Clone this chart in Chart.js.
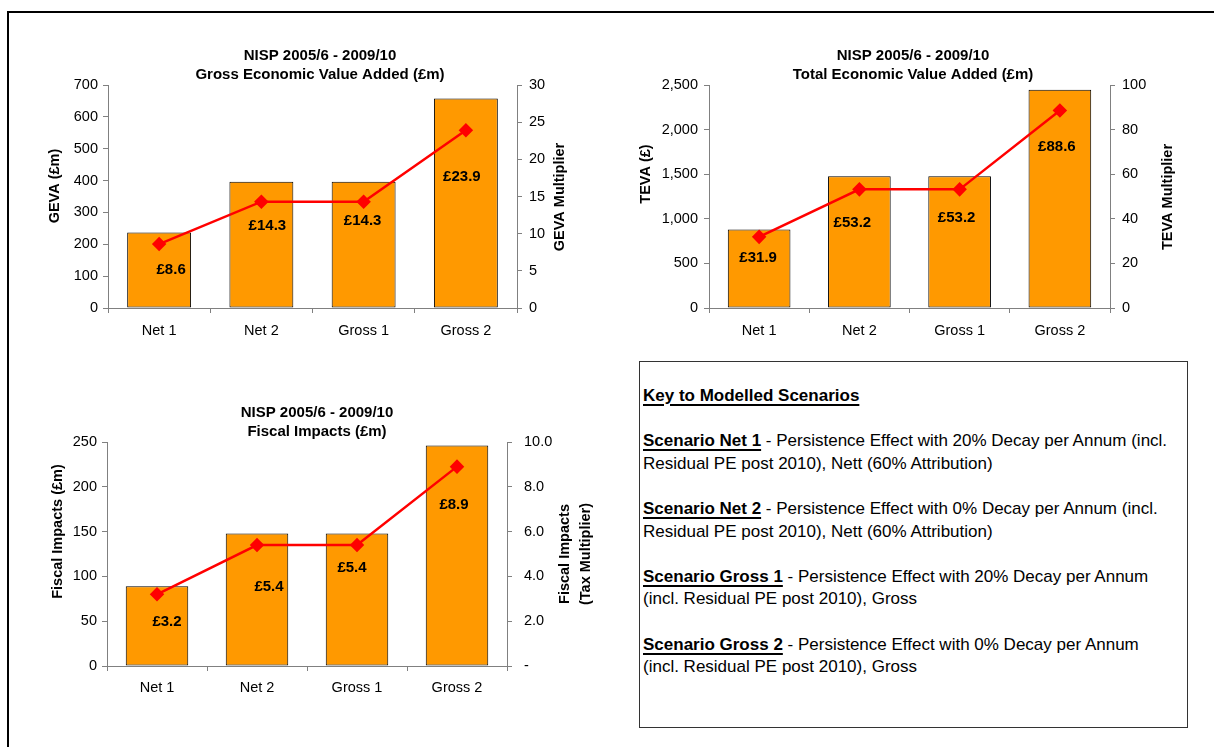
<!DOCTYPE html>
<html>
<head>
<meta charset="utf-8">
<title>NISP 2005/6 - 2009/10</title>
<script src="https://cdn.jsdelivr.net/npm/chart.js@4.4.0/dist/chart.umd.min.js"></script>
<style>
  body { margin: 0; background: #fff; width: 1214px; height: 747px; overflow: hidden; position: relative;
         font-family: "Liberation Sans", Arial, sans-serif; }
  #frame { position: absolute; left: 7px; top: 11px; width: 1300px; height: 800px;
           border-left: 2px solid #000; border-top: 2px solid #000; }
  canvas { position: absolute; }
  #key { position: absolute; left: 639px; top: 361px; width: 549px; height: 367px; box-sizing: border-box;
         border: 1px solid #333; padding: 23px 0 0 3px; color: #000; }
  #key p { margin: 0 0 22.6px 0; font-size: 17px; line-height: 22.6px; white-space: nowrap; }
  #key .u { font-weight: bold; text-decoration: underline; text-decoration-thickness: 2px; text-underline-offset: 3px; }
</style>
</head>
<body>
<div id="frame"></div>
<canvas id="geva" width="600" height="350" style="left:20px;top:0px"></canvas>
<canvas id="teva" width="602" height="350" style="left:612px;top:0px"></canvas>
<canvas id="fiscal" width="600" height="350" style="left:17px;top:360px"></canvas>

<div id="key">
  <p><span class="u">Key to Modelled Scenarios</span></p>
  <p><span class="u">Scenario Net 1</span> - Persistence Effect with 20% Decay per Annum (incl.<br>Residual PE post 2010), Nett (60% Attribution)</p>
  <p><span class="u">Scenario Net 2</span> - Persistence Effect with 0% Decay per Annum (incl.<br>Residual PE post 2010), Nett (60% Attribution)</p>
  <p><span class="u">Scenario Gross 1</span> - Persistence Effect with 20% Decay per Annum<br>(incl. Residual PE post 2010), Gross</p>
  <p><span class="u">Scenario Gross 2</span> - Persistence Effect with 0% Decay per Annum<br>(incl. Residual PE post 2010), Gross</p>
</div>

<script>
// scenario data
var scenarios = ['Net 1', 'Net 2', 'Gross 1', 'Gross 2'];

var gevaValues = [237, 396, 396, 658];          // £m
var gevaMultiplier = [8.6, 14.3, 14.3, 23.9];

var tevaValues = [880, 1478, 1478, 2446];       // £
var tevaMultiplier = [31.9, 53.2, 53.2, 88.6];

var fiscalValues = [89, 148, 148, 246];         // £m
var taxMultiplier = [3.2, 5.4, 5.4, 8.9];

var FONT = '"Liberation Sans", Arial, sans-serif';
var ORANGE = '#FF9900';
var RED = '#FF0000';
var GREY = '#808080';

Chart.defaults.font.family = FONT;
Chart.defaults.color = '#000';

// "£x.x" labels next to the multiplier markers
var valueLabels = {
    id: 'valueLabels',
    afterDatasetsDraw: function(chart, args, opts) {
        var ctx = chart.ctx;
        var meta = chart.getDatasetMeta(0);
        var data = chart.data.datasets[0].data;
        ctx.save();
        ctx.font = 'bold 15px ' + FONT;
        ctx.fillStyle = '#000';
        ctx.textAlign = 'center';
        ctx.textBaseline = 'middle';
        meta.data.forEach(function(pt, i) {
            var off = opts.offsets[i];
            ctx.fillText('£' + data[i].toFixed(1), pt.x + off[0], pt.y + off[1]);
        });
        ctx.restore();
    }
};

// both axis titles read bottom-to-top, so draw them by hand
var sideTitles = {
    id: 'sideTitles',
    afterDraw: function(chart, args, opts) {
        var ctx = chart.ctx;
        var area = chart.chartArea;
        function draw(lines, x, y) {
            ctx.save();
            ctx.translate(x, y);
            ctx.rotate(-Math.PI / 2);
            ctx.font = 'bold 14.5px ' + FONT;
            ctx.fillStyle = '#000';
            ctx.textAlign = 'center';
            ctx.textBaseline = 'middle';
            for (var i = 0; i < lines.length; i++) {
                ctx.fillText(lines[i], 0, (i - (lines.length - 1) / 2) * 21.7);
            }
            ctx.restore();
        }
        draw(opts.left.lines, area.left + opts.left.dx, area.top + opts.left.dy);
        draw(opts.right.lines, area.right + opts.right.dx, area.top + opts.right.dy);
    }
};

function buildChart(id, o) {
    var tickFont = { size: 14.5 };
    return new Chart(document.getElementById(id), {
        type: 'bar',
        data: {
            labels: scenarios,
            datasets: [
                {
                    type: 'line',
                    data: o.multiplier,
                    yAxisID: 'y1',
                    order: 0,
                    borderColor: RED,
                    backgroundColor: RED,
                    borderWidth: 2.5,
                    pointStyle: 'rectRot',
                    pointRadius: 5.5,
                    pointBackgroundColor: RED,
                    pointBorderColor: RED
                },
                {
                    type: 'bar',
                    data: o.values,
                    yAxisID: 'y',
                    order: 1,
                    backgroundColor: ORANGE,
                    borderColor: '#000',
                    borderWidth: 1,
                    borderSkipped: false,
                    categoryPercentage: 1,
                    barPercentage: 0.625
                }
            ]
        },
        options: {
            responsive: false,
            animation: false,
            layout: { padding: 0 },
            plugins: {
                legend: { display: false },
                tooltip: { enabled: false },
                title: {
                    display: true,
                    text: o.title,
                    color: '#000',
                    font: { size: 15, weight: 'bold', lineHeight: 1.3 },
                    padding: { top: o.titleTop, bottom: 0 }
                },
                valueLabels: { offsets: o.labelOffsets },
                sideTitles: o.sideTitles
            },
            scales: {
                x: {
                    offset: true,
                    grid: { offset: true, drawOnChartArea: false, tickLength: 5, color: GREY },
                    border: { color: GREY },
                    ticks: { font: tickFont, color: '#000', padding: o.xPad, maxRotation: 0 },
                    afterFit: function(s) { s.height = o.xHeight; }
                },
                y: {
                    position: 'left',
                    min: 0, max: o.yMax,
                    grid: { drawOnChartArea: false, tickLength: 5, color: GREY },
                    border: { color: GREY },
                    ticks: { stepSize: o.yStep, font: tickFont, color: '#000', padding: o.leftPad, callback: o.yFmt },
                    afterFit: function(s) { s.width = o.leftW; }
                },
                y1: {
                    position: 'right',
                    min: 0, max: o.y1Max,
                    grid: { drawOnChartArea: false, tickLength: 5, color: GREY },
                    border: { color: GREY },
                    ticks: { stepSize: o.y1Step, font: tickFont, color: '#000', padding: o.rightPad, callback: o.y1Fmt },
                    afterFit: function(s) { s.width = o.rightW; }
                }
            }
        },
        plugins: [valueLabels, sideTitles]
    });
}

function plain(v) { return String(v); }

buildChart('geva', {
    title: ['NISP 2005/6 - 2009/10', 'Gross Economic Value Added (£m)'],
    values: gevaValues,
    multiplier: gevaMultiplier,
    yMax: 700, yStep: 100, yFmt: plain,
    y1Max: 30, y1Step: 5, y1Fmt: plain,
    titleTop: 46,
    leftW: 88, rightW: 103, xHeight: 42, xPad: 9,
    leftPad: 5, rightPad: 7,
    labelOffsets: [[12, 26], [6, 24], [-1, 19], [-4, 47]],
    sideTitles: {
        left: { lines: ['GEVA (£m)'], dx: -53, dy: 101 },
        right: { lines: ['GEVA Multiplier'], dx: 43, dy: 112 }
    }
});

buildChart('teva', {
    title: ['NISP 2005/6 - 2009/10', 'Total Economic Value Added (£m)'],
    values: tevaValues,
    multiplier: tevaMultiplier,
    yMax: 2500, yStep: 500, yFmt: function(v) { return Number(v).toLocaleString('en-GB'); },
    y1Max: 100, y1Step: 20, y1Fmt: plain,
    titleTop: 46,
    leftW: 97, rightW: 104, xHeight: 42, xPad: 9,
    leftPad: 6, rightPad: 7,
    labelOffsets: [[-1, 21], [-7, 33], [-3, 28], [-3, 36]],
    sideTitles: {
        left: { lines: ['TEVA (£)'], dx: -63, dy: 89 },
        right: { lines: ['TEVA Multiplier'], dx: 58, dy: 112 }
    }
});

buildChart('fiscal', {
    title: ['NISP 2005/6 - 2009/10', 'Fiscal Impacts (£m)'],
    values: fiscalValues,
    multiplier: taxMultiplier,
    yMax: 250, yStep: 50, yFmt: plain,
    y1Max: 10, y1Step: 2, y1Fmt: function(v) { return v === 0 ? '-' : Number(v).toFixed(1); },
    titleTop: 43,
    leftW: 90, rightW: 110, xHeight: 44, xPad: 8,
    leftPad: 5, rightPad: 12,
    labelOffsets: [[10, 28], [12, 42], [-5, 23], [-3, 38]],
    sideTitles: {
        left: { lines: ['Fiscal Impacts (£m)'], dx: -49, dy: 89.5 },
        right: { lines: ['Fiscal Impacts', '(Tax Multiplier)'], dx: 68.5, dy: 112 }
    }
});
</script>
</body>
</html>
